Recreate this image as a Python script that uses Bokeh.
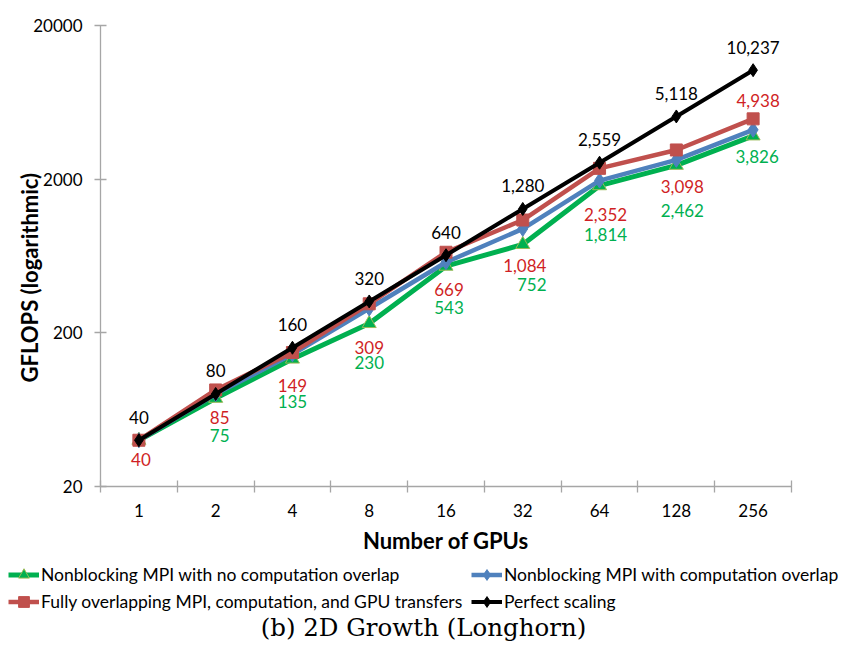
import numpy as np
from bokeh.plotting import figure
from bokeh.layouts import column
from bokeh.models import (ColumnDataSource, FixedTicker, NumeralTickFormatter,
                          Legend, LegendItem, Title, Label, Range1d)
from bokeh.embed import file_html
from bokeh.resources import INLINE
from bokeh.core.properties import value

# GPU counts (categories) and measured throughput in GFLOPS
gpus = ["1", "2", "4", "8", "16", "32", "64", "128", "256"]
no_overlap = [40, 75, 135, 230, 543, 752, 1814, 2462, 3826]
comp_overlap = [40, 80, 145, 288, 576, 950, 1958, 2672, 4188]
full_overlap = [40, 85, 149, 309, 669, 1084, 2352, 3098, 4938]
perfect = [40, 80, 160, 320, 640, 1280, 2559, 5118, 10237]

y_ticks = [20, 200, 2000, 20000]

series_names = [
    "Nonblocking MPI with no computation overlap",
    "Nonblocking MPI with computation overlap",
    "Fully overlapping MPI, computation, and GPU transfers",
    "Perfect scaling",
]

# pixel nudges for the value labels (x right, y down)
perfect_dx = [0, 0, 0, 0, 0, 0, 0, 0, 0]
perfect_dy = [-23, -23, -23, -23, -23, -23, -23, -23, -23]
full_dx = [2, 4, 0, 0, 3, 2, 6, 6, 5]
full_dy = [19, 28, 33, 44, 37, 45, 46, 37, -18]
noov_dx = [4, 4, 0, 0, 3, 9, 6, 6, 4]
noov_dy = [37, 37, 42, 39, 41, 40, 49, 45, 21]

GREEN = "#00B050"
BLUE = "#4F81BD"
RED = "#C0504D"
BLACK = "#000000"
RED_TXT = "#D01F25"
FONT = "Lato"
AXIS_GRAY = "#A6A6A6"

STYLES = [
    dict(color=GREEN, lw=5, marker="triangle", size=14, edge="#9BBB59"),
    dict(color=BLUE, lw=4.5, marker="diamond", size=15, edge=BLUE),
    dict(color=RED, lw=4.5, marker="square", size=12, edge=RED),
    dict(color=BLACK, lw=4, marker="diamond", size=13, edge=BLACK),
]

xs = np.arange(len(gpus)) + 0.5

# ---------------------------------------------------------------- main chart
p = figure(width=843, height=560, y_axis_type="log",
           x_range=Range1d(0, len(gpus)), y_range=Range1d(20, 20000),
           output_backend="svg", toolbar_location=None,
           min_border_left=100, min_border_right=52,
           min_border_top=25, min_border_bottom=74)
p.frame_align = False
p.outline_line_color = None
p.xgrid.visible = False
p.ygrid.visible = False

# x axis: labels at category centres, tick marks at category boundaries
xa = p.xaxis[0]
xa.ticker = FixedTicker(ticks=list(xs), minor_ticks=list(range(len(gpus) + 1)))
xa.major_label_overrides = {float(x): g for x, g in zip(xs, gpus)}
xa.major_tick_in = 0
xa.major_tick_out = 0
xa.minor_tick_in = 6
xa.minor_tick_out = 6
xa.minor_tick_line_color = AXIS_GRAY
xa.minor_tick_line_width = 1.3
xa.axis_line_color = AXIS_GRAY
xa.axis_line_width = 1.3
xa.major_label_text_font = FONT
xa.major_label_text_font_size = "17px"
xa.major_label_text_color = "#000000"
xa.major_label_standoff = 11
xa.axis_label = "Number of GPUs"
xa.axis_label_text_font = FONT
xa.axis_label_text_font_style = "bold"
xa.axis_label_text_font_size = "22px"
xa.axis_label_text_color = "#000000"
xa.axis_label_standoff = 7

ya = p.yaxis[0]
ya.ticker = FixedTicker(ticks=y_ticks, minor_ticks=[])
ya.formatter = NumeralTickFormatter(format="0")
ya.major_tick_in = 6
ya.major_tick_out = 6
ya.major_tick_line_color = AXIS_GRAY
ya.major_tick_line_width = 1.3
ya.minor_tick_in = 0
ya.minor_tick_out = 0
ya.axis_line_color = AXIS_GRAY
ya.axis_line_width = 1.3
ya.major_label_text_font = FONT
ya.major_label_text_font_size = "17px"
ya.major_label_text_color = "#000000"
ya.major_label_standoff = 12

src = ColumnDataSource(dict(
    x=xs, gpus=gpus,
    no_overlap=no_overlap, comp_overlap=comp_overlap,
    full_overlap=full_overlap, perfect=perfect,
    perfect_txt=[f"{v:,}" for v in perfect],
    full_txt=[f"{v:,}" for v in full_overlap],
    noov_txt=[f"{v:,}" for v in no_overlap],
    perfect_dx=perfect_dx, perfect_dy=perfect_dy,
    full_dx=full_dx, full_dy=full_dy,
    noov_dx=noov_dx, noov_dy=noov_dy,
))

for col, st in zip(["no_overlap", "comp_overlap", "full_overlap", "perfect"], STYLES):
    p.line("x", col, source=src, color=st["color"], line_width=st["lw"])
    p.scatter("x", col, source=src, marker=st["marker"], size=st["size"],
              fill_color=st["color"], line_color=st["edge"], line_width=1)

# value labels (the 1-GPU "no overlap" value coincides with the others, so it is not repeated)
noov_src = ColumnDataSource({k: v[1:] for k, v in src.data.items()})
p.text("x", "perfect", text="perfect_txt", source=src, x_offset="perfect_dx",
       y_offset="perfect_dy", text_align="center", text_baseline="middle",
       text_font=value(FONT), text_font_size="17px", text_color=BLACK)
p.text("x", "full_overlap", text="full_txt", source=src, x_offset="full_dx",
       y_offset="full_dy", text_align="center", text_baseline="middle",
       text_font=value(FONT), text_font_size="17px", text_color=RED_TXT)
p.text("x", "no_overlap", text="noov_txt", source=noov_src, x_offset="noov_dx",
       y_offset="noov_dy", text_align="center", text_baseline="middle",
       text_font=value(FONT), text_font_size="17px", text_color=GREEN)

# y-axis title, anchored from the bottom of the plot area
ytitle = Title(text="GFLOPS (logarithmic)", align="left", offset=104,
               text_font=FONT, text_font_style="bold", text_font_size="22px",
               text_color="#000000", standoff=-24)
p.add_layout(ytitle, "left")

# ---------------------------------------------------------------- legend + caption strip
W, H = 843, 88
q = figure(width=W, height=H, x_range=Range1d(0, W), y_range=Range1d(0, H),
           output_backend="svg", toolbar_location=None,
           x_axis_location=None, y_axis_location=None,
           min_border=0, min_border_left=0, min_border_right=0,
           min_border_top=0, min_border_bottom=0)
q.frame_align = False
q.outline_line_color = None
q.xgrid.visible = False
q.ygrid.visible = False

# legend-only renderers: a single undefined point, so nothing shows in the strip itself
items = []
blank = ColumnDataSource(dict(x=[np.nan], y=[np.nan]))
for name, st in zip(series_names, STYLES):
    ln = q.line("x", "y", source=blank, color=st["color"], line_width=st["lw"])
    mk = q.scatter("x", "y", source=blank, marker=st["marker"], size=st["size"] - 2,
                   fill_color=st["color"], line_color=st["edge"], line_width=1)
    items.append(LegendItem(label=name, renderers=[ln, mk]))

legend = Legend(items=items, location=(8, 33), orientation="horizontal", ncols=2)
legend.padding = 0
legend.margin = 0
legend.spacing = 0
legend.glyph_width = 31
legend.glyph_height = 27
legend.label_height = 27
legend.label_width = 430
legend.label_standoff = 2
legend.label_text_font = FONT
legend.label_text_font_size = "17.5px"
legend.label_text_color = "#000000"
legend.border_line_color = None
legend.background_fill_alpha = 0
q.add_layout(legend, "center")

caption = Label(x=423, y=21, text="(b) 2D Growth (Longhorn)",
                text_align="center", text_baseline="middle",
                text_font="DejaVu Serif", text_font_size="24.5px",
                text_color="#000000")
q.add_layout(caption)

layout = column(p, q, spacing=0)
open("out.html", "w").write(file_html(layout, INLINE))
